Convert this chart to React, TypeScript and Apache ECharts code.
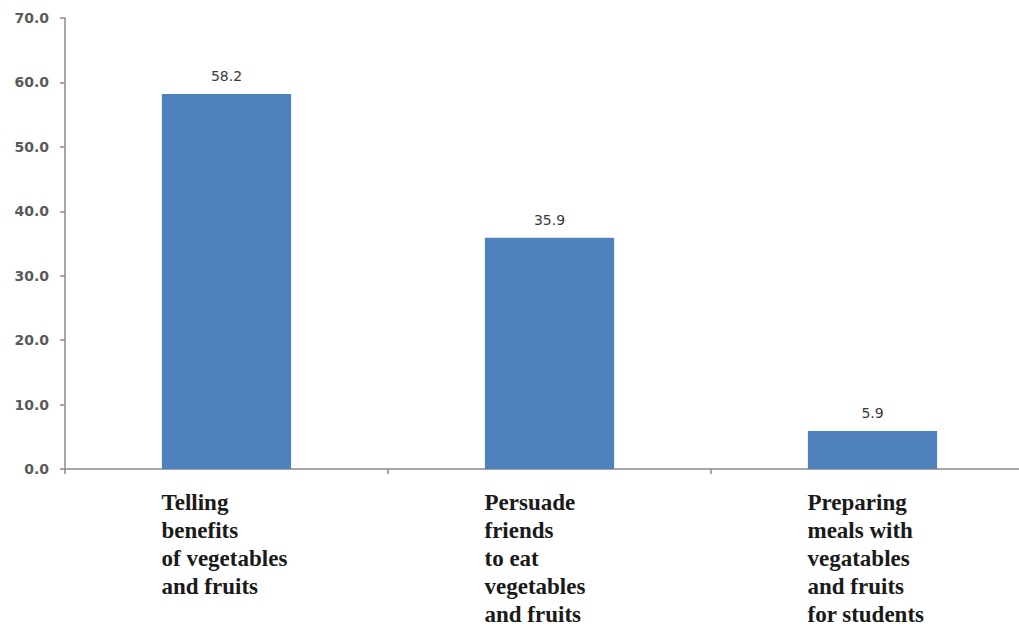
import React, { useEffect, useRef } from "react";
import * as echarts from "echarts";

const categories: string[] = [
  "Telling\nbenefits\nof vegetables\nand fruits",
  "Persuade\nfriends\nto eat\nvegetables\nand fruits",
  "Preparing\nmeals with\nvegatables\nand fruits\nfor students",
];
const values: number[] = [58.2, 35.9, 5.9];
const yTicks = { min: 0, max: 70, interval: 10 };

export default function App() {
  const ref = useRef<HTMLDivElement>(null);

  useEffect(() => {
    if (!ref.current) return;
    const chart = echarts.init(ref.current, null, { renderer: "svg" });
    const axisGray = "#8a8a8a";
    chart.setOption({
      animation: false,
      backgroundColor: "#ffffff",
      grid: { left: 65, top: 18, right: 6, bottom: 158, containLabel: false },
      xAxis: {
        type: "category",
        data: categories,
        axisLine: { lineStyle: { color: axisGray, width: 1.5 } },
        axisTick: { show: true, length: 5, lineStyle: { color: axisGray, width: 1.5 } },
        axisLabel: {
          margin: 19,
          interval: 0,
          formatter: (v: string) =>
            v
              .split("\n")
              .map((line) => `{c|${line}}`)
              .join("\n"),
          rich: {
            c: {
              width: 130,
              align: "left",
              fontFamily: "Liberation Serif",
              fontWeight: "bold",
              fontSize: 23,
              lineHeight: 28,
              color: "#1a1a1a",
            },
          },
        },
      },
      yAxis: {
        type: "value",
        min: yTicks.min,
        max: yTicks.max,
        interval: yTicks.interval,
        splitLine: { show: false },
        axisLine: { show: true, lineStyle: { color: axisGray, width: 1.5 } },
        axisTick: { show: true, length: 5, lineStyle: { color: axisGray, width: 1.5 } },
        axisLabel: {
          margin: 16,
          formatter: (v: number) => v.toFixed(1),
          fontFamily: "DejaVu Sans",
          fontWeight: "bold",
          fontSize: 14,
          color: "#5a5a5a",
        },
      },
      series: [
        {
          type: "bar",
          data: values,
          barWidth: "40%",
          itemStyle: { color: "#4f81bd" },
          label: {
            show: true,
            position: "top",
            distance: 11,
            formatter: (p: any) => Number(p.value).toFixed(1),
            fontFamily: "DejaVu Sans",
            fontSize: 14,
            color: "#3a3a3a",
          },
        },
      ],
    });
    return () => chart.dispose();
  }, []);

  return (
    <div
      style={{
        position: "absolute",
        left: 0,
        top: 0,
        width: 1019,
        height: 627,
        overflow: "hidden",
        background: "#ffffff",
      }}
    >
      <div ref={ref} style={{ width: 1040, height: 627 }} />
    </div>
  );
}
